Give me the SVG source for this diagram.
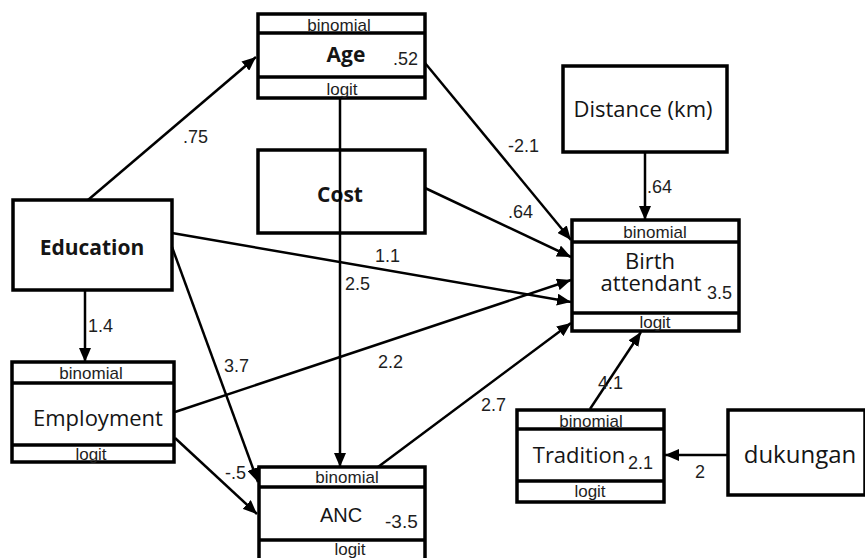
<svg xmlns="http://www.w3.org/2000/svg" width="865" height="558" viewBox="0 0 865 558">
<style>
.box{fill:#fff;stroke:#000;stroke-width:3.5}
.div{stroke:#000;stroke-width:3.5}
.sm{font-family:"Liberation Sans",Arial,sans-serif;font-size:17px;fill:#1e1e1e;text-anchor:middle}
.lbl{font-family:"Open Sans","Noto Sans",sans-serif;font-size:22px;fill:#151515;text-anchor:middle}
.b{font-weight:bold;font-size:21px}
.num{font-family:"Liberation Sans",Arial,sans-serif;font-size:18px;fill:#1e1e1e}
.edge{stroke:#000;stroke-width:2.5;fill:none;marker-end:url(#ah)}
</style>
<defs>
<marker id="ah" markerUnits="userSpaceOnUse" markerWidth="14" markerHeight="12" viewBox="0 0 14 12" refX="14" refY="6" orient="auto">
<path d="M0 0 L14 6 L0 12 Z" fill="#000"/>
</marker>
</defs>
<rect width="865" height="558" fill="#fff"/>
<g id="age">
<rect class="box" x="258" y="14" width="167" height="84"/>
<line class="div" x1="258" y1="33" x2="425" y2="33"/>
<line class="div" x1="258" y1="77" x2="425" y2="77"/>
<text class="sm" x="339" y="31">binomial</text>
<text class="lbl b" x="346" y="62">Age</text>
<text class="num" x="393" y="65">.52</text>
<text class="sm" x="342" y="95">logit</text>
</g>
<g id="cost">
<rect class="box" x="258" y="150" width="167" height="83"/>
<text class="lbl b" x="340" y="202">Cost</text>
</g>
<g id="education">
<rect class="box" x="13" y="200" width="159" height="90"/>
<text class="lbl b" x="92" y="255">Education</text>
</g>
<g id="employment">
<rect class="box" x="12" y="362" width="162" height="100"/>
<line class="div" x1="12" y1="383" x2="174" y2="383"/>
<line class="div" x1="12" y1="445" x2="174" y2="445"/>
<text class="sm" x="91" y="379">binomial</text>
<text class="lbl" x="98" y="426">Employment</text>
<text class="sm" x="91" y="460">logit</text>
</g>
<g id="anc">
<rect class="box" x="259" y="467" width="166" height="95"/>
<line class="div" x1="259" y1="487" x2="425" y2="487"/>
<line class="div" x1="259" y1="540" x2="425" y2="540"/>
<text class="sm" x="347" y="483">binomial</text>
<text x="341" y="522" style="font-family:'Liberation Sans',Arial,sans-serif;font-size:20px;fill:#151515;text-anchor:middle">ANC</text>
<text class="num" x="385" y="528" style="font-size:19px">-3.5</text>
<text class="sm" x="350" y="555">logit</text>
</g>
<g id="distance">
<rect class="box" x="563" y="66" width="164" height="86"/>
<text class="lbl" x="643" y="117">Distance (km)</text>
</g>
<g id="birth">
<rect class="box" x="572" y="220" width="167" height="111"/>
<line class="div" x1="572" y1="242" x2="739" y2="242"/>
<line class="div" x1="572" y1="313" x2="739" y2="313"/>
<text class="sm" x="655" y="238">binomial</text>
<text class="lbl" x="650" y="269">Birth</text>
<text class="lbl" x="651" y="291">attendant</text>
<text class="num" x="707" y="299">3.5</text>
<text class="sm" x="655" y="328">logit</text>
</g>
<g id="tradition">
<rect class="box" x="517" y="410" width="147" height="92"/>
<line class="div" x1="517" y1="429" x2="664" y2="429"/>
<line class="div" x1="517" y1="481" x2="664" y2="481"/>
<text class="sm" x="591" y="427">binomial</text>
<text class="lbl" x="579" y="463">Tradition</text>
<text class="num" x="628" y="469">2.1</text>
<text class="sm" x="590" y="497">logit</text>
</g>
<g id="dukungan">
<rect class="box" x="728" y="410" width="137" height="85"/>
<text class="lbl" x="800" y="463" style="font-size:24px">dukungan</text>
</g>
<g id="connectors">
<path class="edge" d="M88 200 L256 57"/>
<path class="edge" d="M425 63 L571 240"/>
<path class="edge" d="M425 188 L571 257"/>
<path class="edge" d="M645 152 L645 220"/>
<path class="edge" d="M172 233 L571 302"/>
<path class="edge" d="M175 412 L571 280"/>
<path class="edge" d="M378 467 L571 323"/>
<path class="edge" d="M590 409 L641 332"/>
<path class="edge" d="M340 98 L340 467"/>
<path class="edge" d="M85 290 L85 362"/>
<path class="edge" d="M172 247 L258 482"/>
<path class="edge" d="M175 438 L257 514"/>
<path class="edge" d="M728 455 L665 455"/>
</g>
<g id="labels">
<text class="num" x="183" y="143">.75</text>
<text class="num" x="508" y="152">-2.1</text>
<text class="num" x="508" y="218">.64</text>
<text class="num" x="647" y="193">.64</text>
<text class="num" x="375" y="262">1.1</text>
<text class="num" x="345" y="290">2.5</text>
<text class="num" x="88" y="332">1.4</text>
<text class="num" x="224" y="372">3.7</text>
<text class="num" x="378" y="368">2.2</text>
<text class="num" x="481" y="411">2.7</text>
<text class="num" x="598" y="389">4.1</text>
<text class="num" x="225" y="479">-.5</text>
<text class="num" x="695" y="478">2</text>
</g>
</svg>
